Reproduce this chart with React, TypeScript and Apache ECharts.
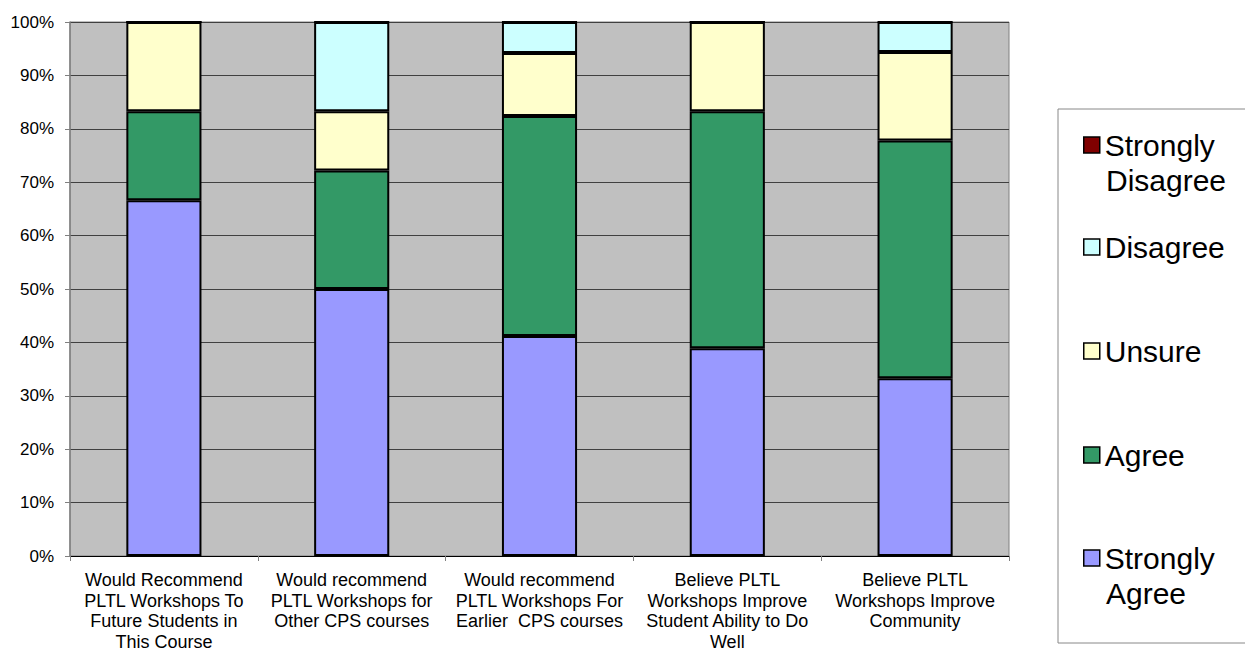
import React, { useEffect, useRef } from "react";
import * as echarts from "echarts";

const categories = [
  "Would Recommend\nPLTL Workshops To\nFuture Students in\nThis Course",
  "Would recommend\nPLTL Workshops for\nOther CPS courses",
  "Would recommend\nPLTL Workshops For\nEarlier  CPS courses",
  "Believe PLTL\nWorkshops Improve\nStudent Ability to Do\nWell",
  "Believe PLTL\nWorkshops Improve\nCommunity",
];

const seriesNames = ["Strongly Agree", "Agree", "Unsure", "Disagree", "Strongly Disagree"];
const stronglyAgree = [66.6, 50.0, 41.2, 38.9, 33.3];
const agree = [16.7, 22.2, 41.2, 44.4, 44.5];
const unsure = [16.7, 11.1, 11.8, 16.7, 16.6];
const disagree = [0, 16.7, 5.8, 0, 5.6];
const stronglyDisagree = [0, 0, 0, 0, 0];
const yTicks = [0, 10, 20, 30, 40, 50, 60, 70, 80, 90, 100];

const colors = ["#9999FF", "#339966", "#FFFFCC", "#CCFFFF", "#800000"];
const FONT = 'Arial, "Liberation Sans", sans-serif';

export default function App() {
  const ref = useRef<HTMLDivElement>(null);
  useEffect(() => {
    document.body.style.margin = "0";
    const chart = echarts.init(ref.current!, null, { renderer: "svg" });
    const values = [stronglyAgree, agree, unsure, disagree, stronglyDisagree];
    const series = seriesNames.map((name, i) => ({
      name,
      type: "bar",
      stack: "total",
      barWidth: "40%",
      data: values[i],
      itemStyle: { color: colors[i], borderColor: "#000", borderWidth: 2 },
    }));
    const legendCenters = [145, 247, 351, 455, 558];
    const legendOrder = [4, 3, 2, 1, 0];
    const secondLines: any[] = [];
    const legends = legendOrder.map((si, k) => {
      const name = seriesNames[si];
      const parts = name.split(" ");
      const twoLine = parts.length > 1;
      if (twoLine) {
        secondLines.push({
          type: "text",
          x: 1106,
          y: legendCenters[k] + 35,
          silent: true,
          style: {
            text: parts.slice(1).join(" "),
            fill: "#000",
            fontFamily: FONT,
            fontSize: 30,
            verticalAlign: "middle",
            align: "left",
          },
        });
      }
      return {
        show: true,
        orient: "vertical",
        left: 1083,
        top: legendCenters[k] - 17.5,
        padding: 0,
        itemWidth: 16,
        itemHeight: 16,
        icon: "rect",
        selectedMode: false,
        data: [name],
        formatter: (n: string) => n.split(" ")[0],
        itemStyle: { borderColor: "#000", borderWidth: 1.5 },
        textStyle: {
          color: "#000",
          fontFamily: FONT,
          fontSize: 30,
          lineHeight: 35,
        },
      };
    });
    chart.setOption({
      animation: false,
      textStyle: { fontFamily: FONT },
      graphic: [
        {
          type: "rect",
          shape: { x: 1058, y: 109, width: 200, height: 534 },
          style: { fill: "none", stroke: "#888", lineWidth: 1 },
          silent: true,
        },
        ...secondLines,
      ],
      legend: legends,
      grid: {
        left: 70,
        top: 22,
        right: 236,
        bottom: 95,
        show: true,
        backgroundColor: "#C0C0C0",
        borderColor: "#808080",
        borderWidth: 1,
      },
      xAxis: {
        type: "category",
        data: categories,
        axisLine: { lineStyle: { color: "#000", width: 1 } },
        axisTick: { show: true, length: 5, lineStyle: { color: "#808080" } },
        axisLabel: {
          interval: 0,
          color: "#000",
          fontSize: 18,
          lineHeight: 20.5,
          margin: 14,
          fontFamily: FONT,
        },
      },
      yAxis: {
        type: "value",
        min: yTicks[0],
        max: yTicks[yTicks.length - 1],
        interval: 10,
        axisLine: { show: true, lineStyle: { color: "#808080", width: 1.5 } },
        axisTick: { show: true, length: 5, lineStyle: { color: "#808080" } },
        axisLabel: {
          formatter: "{value}%",
          color: "#000",
          fontSize: 17,
          margin: 16,
          fontFamily: FONT,
        },
        splitLine: { show: true, lineStyle: { color: "#404040", width: 1 } },
      },
      series,
    });
    return () => chart.dispose();
  }, []);
  return <div ref={ref} style={{ width: 1245, height: 652 }} />;
}
